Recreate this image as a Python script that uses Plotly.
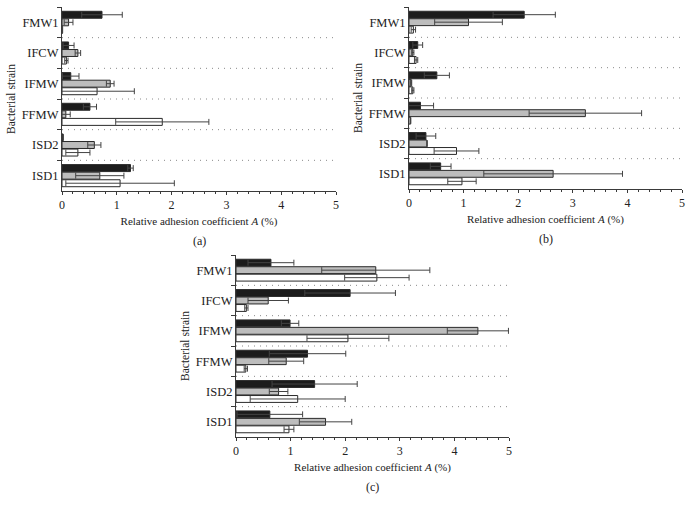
import plotly.graph_objects as go

strains = ["FMW1", "IFCW", "IFMW", "FFMW", "ISD2", "ISD1"]
series_names = ["Series 1", "Series 2", "Series 3"]
series_colors = ["#1c1c1c", "#bdbdbd", "#ffffff"]

# Panel (a)
a_black = [0.73, 0.12, 0.16, 0.51, 0.02, 1.25]
a_black_err = [0.37, 0.10, 0.15, 0.12, 0.00, 0.05]
a_gray = [0.12, 0.29, 0.88, 0.07, 0.59, 0.69]
a_gray_err = [0.08, 0.05, 0.07, 0.08, 0.12, 0.44]
a_white = [0.01, 0.08, 0.64, 1.83, 0.29, 1.06]
a_white_err = [0.00, 0.03, 0.68, 0.85, 0.22, 0.99]

# Panel (b)
b_black = [2.11, 0.16, 0.51, 0.21, 0.31, 0.58]
b_black_err = [0.57, 0.09, 0.23, 0.24, 0.18, 0.19]
b_gray = [1.09, 0.07, 0.04, 3.23, 0.33, 2.64]
b_gray_err = [0.62, 0.02, 0.01, 1.03, 0.00, 1.27]
b_white = [0.08, 0.13, 0.07, 0.03, 0.87, 0.97]
b_white_err = [0.04, 0.03, 0.02, 0.00, 0.41, 0.26]

# Panel (c)
c_black = [0.64, 2.09, 0.99, 1.31, 1.44, 0.62]
c_black_err = [0.42, 0.83, 0.16, 0.70, 0.78, 0.60]
c_gray = [2.56, 0.59, 4.43, 0.92, 0.78, 1.64]
c_gray_err = [0.99, 0.37, 0.56, 0.32, 0.17, 0.48]
c_white = [2.58, 0.19, 2.05, 0.18, 1.13, 0.97]
c_white_err = [0.59, 0.03, 0.75, 0.03, 0.87, 0.09]

x_ticks = [0, 1, 2, 3, 4, 5]
panel_labels = ["(a)", "(b)", "(c)"]

FONT = "Liberation Serif"
AX = "#3a3a3a"

panels = [
    ([a_black, a_gray, a_white], [a_black_err, a_gray_err, a_white_err]),
    ([b_black, b_gray, b_white], [b_black_err, b_gray_err, b_white_err]),
    ([c_black, c_gray, c_white], [c_black_err, c_gray_err, c_white_err]),
]

# domains in paper coords (figure 691x510, zero margins)
W, H = 691, 510
px_dom = [((62, 336), (7, 191)), ((409, 682), (7, 189)), ((236, 509), (255, 437))]

fig = go.Figure()
for p, (vals, errs) in enumerate(panels):
    sfx = "" if p == 0 else str(p + 1)
    for s in range(3):
        fig.add_trace(go.Bar(
            x=vals[s], y=strains, orientation="h",
            name=series_names[s], showlegend=False,
            marker=dict(color=series_colors[s], line=dict(color="#2a2a2a", width=1)),
            error_x=dict(type="data", array=errs[s], visible=True,
                         color="#444444", thickness=1, width=3),
            xaxis="x" + sfx, yaxis="y" + sfx,
        ))

layout = dict(
    width=W, height=H, margin=dict(l=0, r=0, t=0, b=0, autoexpand=False),
    paper_bgcolor="white", plot_bgcolor="white",
    barmode="group", bargap=0.26, bargroupgap=0.08,
    font=dict(family=FONT, size=11, color="#222"),
    showlegend=False,
)
shapes = []
annotations = []
for p, ((x0, x1), (y0, y1)) in enumerate(px_dom):
    sfx = "" if p == 0 else str(p + 1)
    xd = [x0 / W, x1 / W]
    yd = [1 - y1 / H, 1 - y0 / H]
    layout["xaxis" + sfx] = dict(
        domain=xd, range=[0, 5], anchor="y" + sfx, automargin=False,
        tickvals=x_ticks, ticktext=[str(t) for t in x_ticks],
        ticks="outside", ticklen=3, tickcolor=AX, tickwidth=1,
        minor=dict(dtick=0.2, ticks="outside", ticklen=2, tickcolor=AX),
        showline=True, linecolor=AX, linewidth=1, showgrid=False, zeroline=False,
        tickfont=dict(family=FONT, size=12, color="#222"),
        title=dict(text="Relative adhesion coefficient <i>A</i> (%)",
                   font=dict(family=FONT, size=11, color="#222"), standoff=5),
        fixedrange=True,
    )
    layout["yaxis" + sfx] = dict(
        domain=yd, anchor="x" + sfx, type="category", automargin=False,
        categoryorder="array", categoryarray=strains, autorange="reversed",
        tickson="boundaries", ticks="outside", ticklen=4, tickcolor=AX,
        showline=True, linecolor=AX, linewidth=1, showgrid=False, zeroline=False,
        tickfont=dict(family=FONT, size=12.5, color="#222"),
        title=dict(text="Bacterial strain", font=dict(family=FONT, size=11.5, color="#222"),
                   standoff=3),
        fixedrange=True,
    )
    for i in range(len(strains) - 1):
        shapes.append(dict(type="line", xref="x" + sfx, yref="y" + sfx,
                           x0=0, x1=5, y0=i + 0.5, y1=i + 0.5,
                           line=dict(color="#8a8a8a", width=1, dash="1px,5px"), layer="below"))
    annotations.append(dict(text=panel_labels[p], xref="paper", yref="paper",
                            x=(x0 + x1) / 2 / W, y=1 - (y1 + 50) / H,
                            xanchor="center", yanchor="middle",
                            showarrow=False, font=dict(family=FONT, size=12, color="#222")))
layout["shapes"] = shapes
layout["annotations"] = annotations
fig.update_layout(**layout)
fig.write_html("out.html", config={"displayModeBar": False},
               post_script="document.body.style.margin='0px';document.body.style.padding='0px';")
